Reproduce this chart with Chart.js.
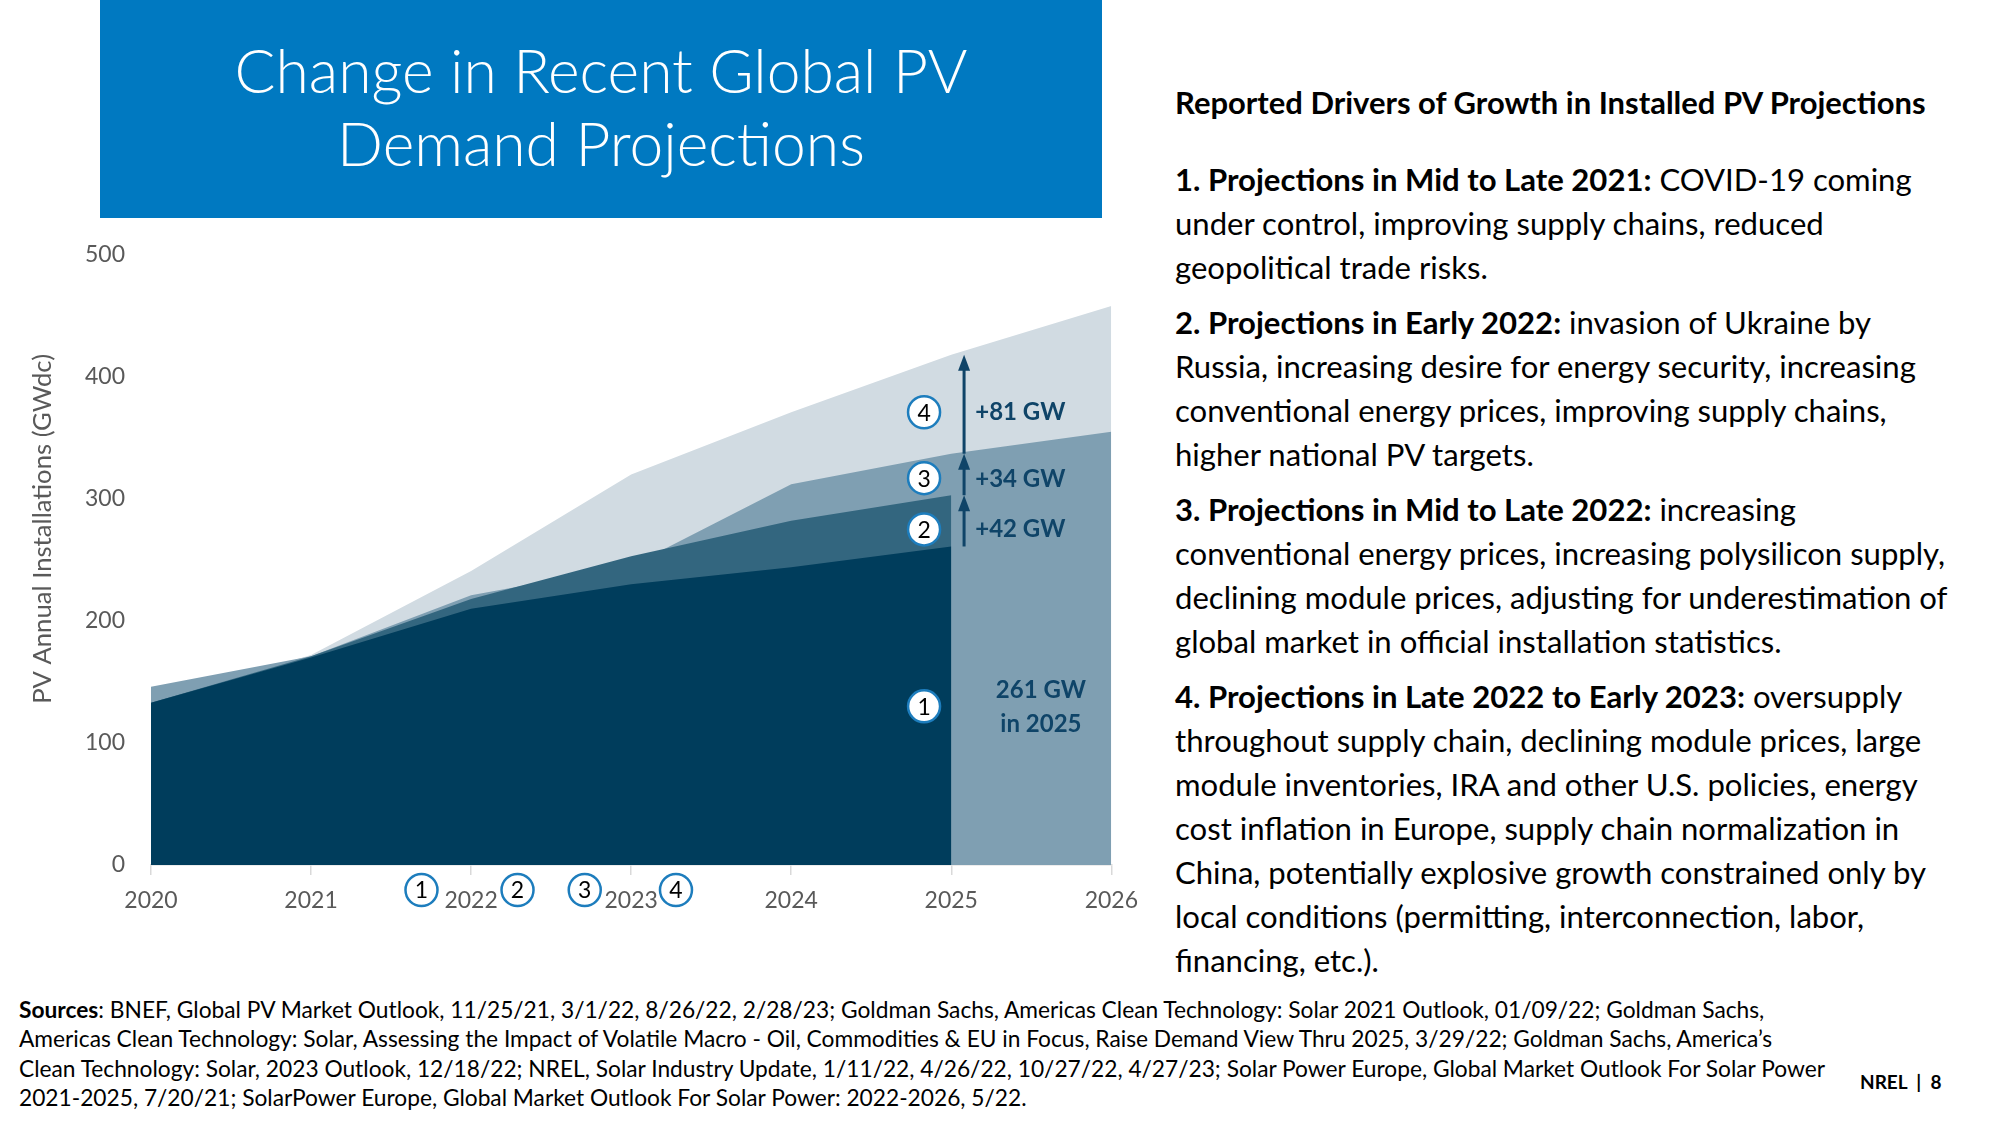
<!DOCTYPE html>
<html lang="en">
<head>
<meta charset="utf-8">
<title>Change in Recent Global PV Demand Projections</title>
<script src="https://cdn.jsdelivr.net/npm/chart.js@4.4.0/dist/chart.umd.min.js"></script>
<style>
  html, body { margin: 0; padding: 0; background: #fff; }
  body { width: 2000px; height: 1125px; position: relative; overflow: hidden; font-family: Lato, "Open Sans", sans-serif; color: #000; }
  #titleBox { position: absolute; left: 100px; top: 0; width: 1002px; height: 218px; background: #0079c1; color: #fff; font-size: 56px; font-weight: 300; }
  #titleBox div { position: absolute; left: 0; width: 100%; height: 73px; line-height: 73px; text-align: center; white-space: nowrap; }
  #chartWrap { position: absolute; left: 0; top: 215px; width: 1150px; height: 735px; }
  #drivers { position: absolute; left: 1175px; top: 80px; width: 820px; font-size: 29px; }
  #drivers h2 { margin: 0 0 32.6px 0; height: 44px; line-height: 44px; font-size: 29px; font-weight: bold; white-space: nowrap; }
  #drivers .para { margin: 0 0 11px 0; }
  #drivers .ln { height: 44px; line-height: 44px; white-space: nowrap; }
  #sources { position: absolute; left: 19px; top: 995px; font-size: 21px; }
  #sources .ln { height: 29.3px; line-height: 29.3px; white-space: nowrap; }
  #pageNo { position: absolute; left: 1860px; top: 1070px; font-size: 19px; font-weight: bold; white-space: nowrap; }
  .fit { display: inline-block; }
</style>
</head>
<body>
  <div id="titleBox">
    <div style="top:33px"><span class="fit" id="t1">Change in Recent Global PV</span></div>
    <div style="top:106px">Demand Projections</div>
  </div>

  <div id="chartWrap"><canvas id="pvChart"></canvas></div>

  <div id="drivers">
    <h2><span class="fit" id="head">Reported Drivers of Growth in Installed PV Projections</span></h2>
    <div class="para">
      <div class="ln"><b>1. Projections in Mid to Late 2021:</b> COVID-19 coming</div>
      <div class="ln">under control, improving supply chains, reduced</div>
      <div class="ln">geopolitical trade risks.</div>
    </div>
    <div class="para">
      <div class="ln"><b>2. Projections in Early 2022:</b> invasion of Ukraine by</div>
      <div class="ln">Russia, increasing desire for energy security, increasing</div>
      <div class="ln">conventional energy prices, improving supply chains,</div>
      <div class="ln">higher national PV targets.</div>
    </div>
    <div class="para">
      <div class="ln"><b>3. Projections in Mid to Late 2022:</b> increasing</div>
      <div class="ln">conventional energy prices, increasing polysilicon supply,</div>
      <div class="ln"><span class="fit" id="longest">declining module prices, adjusting for underestimation of</span></div>
      <div class="ln">global market in official installation statistics.</div>
    </div>
    <div class="para">
      <div class="ln"><b>4. Projections in Late 2022 to Early 2023:</b> oversupply</div>
      <div class="ln">throughout supply chain, declining module prices, large</div>
      <div class="ln">module inventories, IRA and other U.S. policies, energy</div>
      <div class="ln">cost inflation in Europe, supply chain normalization in</div>
      <div class="ln">China, potentially explosive growth constrained only by</div>
      <div class="ln">local conditions (permitting, interconnection, labor,</div>
      <div class="ln">financing, etc.).</div>
    </div>
  </div>

  <div id="sources">
    <div class="ln"><b>Sources</b>: BNEF, Global PV Market Outlook, 11/25/21, 3/1/22, 8/26/22, 2/28/23; Goldman Sachs, Americas Clean Technology: Solar 2021 Outlook, 01/09/22; Goldman Sachs,</div>
    <div class="ln">Americas Clean Technology: Solar, Assessing the Impact of Volatile Macro - Oil, Commodities &amp; EU in Focus, Raise Demand View Thru 2025, 3/29/22; Goldman Sachs, America’s</div>
    <div class="ln"><span class="fit" id="srcLong">Clean Technology: Solar, 2023 Outlook, 12/18/22; NREL, Solar Industry Update, 1/11/22, 4/26/22, 10/27/22, 4/27/23; Solar Power Europe, Global Market Outlook For Solar Power</span></div>
    <div class="ln">2021-2025, 7/20/21; SolarPower Europe, Global Market Outlook For Solar Power: 2022-2026, 5/22.</div>
  </div>

  <div id="pageNo">NREL&nbsp; | &nbsp;8</div>

  <script>
    // values (GWdc)
    const years = [2020, 2021, 2022, 2023, 2024, 2025, 2026];
    const proj1 = [133, 170, 210, 230, 244, 261];        // mid to late 2021
    const proj2 = [133, 171, 218, 253, 282, 303];        // early 2022
    const proj3 = [146, 171, 221, 245, 312, 337, 355];   // mid to late 2022
    const proj4 = [133, 172, 241, 320, 371, 418, 458];   // late 2022 to early 2023
    const yTicks = [0, 100, 200, 300, 400, 500];

    // annotations
    const markerYears = [2021.69, 2022.29, 2022.71, 2023.28];
    const arrowYear = 2025.08;
    const stepArrows = [[261, 303], [303, 337], [337, 418]];
    const stepLabels = ['+42 GW', '+34 GW', '+81 GW'];
    const stepLabelY = [275, 316, 371];
    const circleYear = 2024.83;
    const circleY = [130, 275, 317, 371];

    const navy = '#0f4468';
    const ringBlue = '#1d7dbd';
    const font = 'Lato, "Open Sans", sans-serif';

    // scale text blocks so their widths match the slide
    function fitTo(el, target, holder) {
      const w = el.getBoundingClientRect().width;
      const box = holder || el;
      const fs = parseFloat(getComputedStyle(box).fontSize);
      box.style.fontSize = (fs * target / w) + 'px';
    }
    fitTo(document.getElementById('t1'), 733, document.getElementById('titleBox'));
    fitTo(document.getElementById('head'), 751, document.querySelector('#drivers h2'));
    fitTo(document.getElementById('longest'), 773, document.getElementById('drivers'));
    fitTo(document.getElementById('srcLong'), 1807, document.getElementById('sources'));

    const pts = arr => arr.map((v, i) => ({ x: years[i], y: v }));

    function ring(ctx, cx, cy, n) {
      ctx.beginPath();
      ctx.arc(cx, cy, 16, 0, Math.PI * 2);
      ctx.fillStyle = '#fff';
      ctx.fill();
      ctx.lineWidth = 2.5;
      ctx.strokeStyle = ringBlue;
      ctx.stroke();
      ctx.fillStyle = '#000';
      ctx.font = '23px ' + font;
      ctx.textAlign = 'center';
      ctx.textBaseline = 'middle';
      ctx.fillText(String(n), cx, cy + 1);
    }

    const notes = {
      id: 'notes',
      afterDatasetsDraw(chart) {
        const { ctx, chartArea, scales: { x, y } } = chart;
        ctx.save();

        // y axis title
        const yTitle = 'PV Annual Installations (GWdc)';
        ctx.font = '24px ' + font;
        const fs = 24 * 350 / ctx.measureText(yTitle).width;
        ctx.font = fs + 'px ' + font;
        ctx.fillStyle = '#595959';
        ctx.textAlign = 'center';
        ctx.textBaseline = 'middle';
        ctx.translate(43, (chartArea.top + chartArea.bottom) / 2 - 31);
        ctx.rotate(-Math.PI / 2);
        ctx.fillText(yTitle, 0, 0);
        ctx.setTransform(1, 0, 0, 1, 0, 0);

        // step arrows
        const ax = x.getPixelForValue(arrowYear);
        ctx.strokeStyle = navy;
        ctx.fillStyle = navy;
        ctx.lineWidth = 3;
        stepArrows.forEach(([a, b]) => {
          const y0 = y.getPixelForValue(a);
          const y1 = y.getPixelForValue(b);
          ctx.beginPath();
          ctx.moveTo(ax, y0);
          ctx.lineTo(ax, y1 + 12);
          ctx.stroke();
          ctx.beginPath();
          ctx.moveTo(ax, y1);
          ctx.lineTo(ax - 6, y1 + 16);
          ctx.lineTo(ax + 6, y1 + 16);
          ctx.closePath();
          ctx.fill();
        });

        // step labels
        ctx.font = 'bold 24px ' + font;
        ctx.textAlign = 'left';
        ctx.textBaseline = 'middle';
        stepLabels.forEach((t, i) => {
          ctx.fillText(t, x.getPixelForValue(2025.15), y.getPixelForValue(stepLabelY[i]));
        });
        ctx.textAlign = 'center';
        ctx.fillText('261 GW', x.getPixelForValue(2025.56), y.getPixelForValue(143));
        ctx.fillText('in 2025', x.getPixelForValue(2025.56), y.getPixelForValue(115));

        // numbered rings next to the arrows
        circleY.forEach((v, i) => ring(ctx, x.getPixelForValue(circleYear), y.getPixelForValue(v), i + 1));

        // numbered rings on the time axis
        markerYears.forEach((v, i) => ring(ctx, x.getPixelForValue(v), chartArea.bottom + 25, i + 1));

        ctx.restore();
      }
    };

    const area = (label, arr, color, order) => ({
      label: label,
      data: pts(arr),
      fill: 'origin',
      backgroundColor: color,
      borderWidth: 0,
      pointRadius: 0,
      tension: 0,
      order: order
    });

    new Chart(document.getElementById('pvChart'), {
      type: 'line',
      data: {
        datasets: [
          area('Projections in Mid to Late 2021', proj1, '#003d5c', 1),
          area('Projections in Early 2022', proj2, '#33667f', 2),
          area('Projections in Mid to Late 2022', proj3, '#7f9fb2', 3),
          area('Projections in Late 2022 to Early 2023', proj4, '#d1dbe2', 4)
        ]
      },
      options: {
        responsive: true,
        maintainAspectRatio: false,
        animation: false,
        layout: { padding: { top: 8, right: 37, left: 0, bottom: 0 } },
        plugins: {
          legend: { display: false },
          tooltip: { enabled: false }
        },
        scales: {
          x: {
            type: 'linear',
            min: 2020,
            max: 2026,
            afterBuildTicks: s => { s.ticks = years.map(v => ({ value: v })); },
            afterFit: s => { s.height = 85; },
            ticks: {
              callback: v => String(v),
              color: '#595959',
              font: { family: font, size: 23 },
              padding: 12,
              autoSkip: false,
              maxRotation: 0
            },
            grid: { display: true, drawOnChartArea: false, drawTicks: true, tickLength: 10, color: '#d9d9d9', lineWidth: 1.5 },
            border: { display: true, color: '#d9d9d9', width: 1.5 }
          },
          y: {
            min: 0,
            max: 500,
            afterBuildTicks: s => { s.ticks = yTicks.map(v => ({ value: v })); },
            afterFit: s => { s.width = 151; },
            ticks: {
              color: '#595959',
              font: { family: font, size: 23 },
              padding: 26
            },
            grid: { display: false, drawTicks: false },
            border: { display: false }
          }
        }
      },
      plugins: [notes]
    });
  </script>
</body>
</html>
